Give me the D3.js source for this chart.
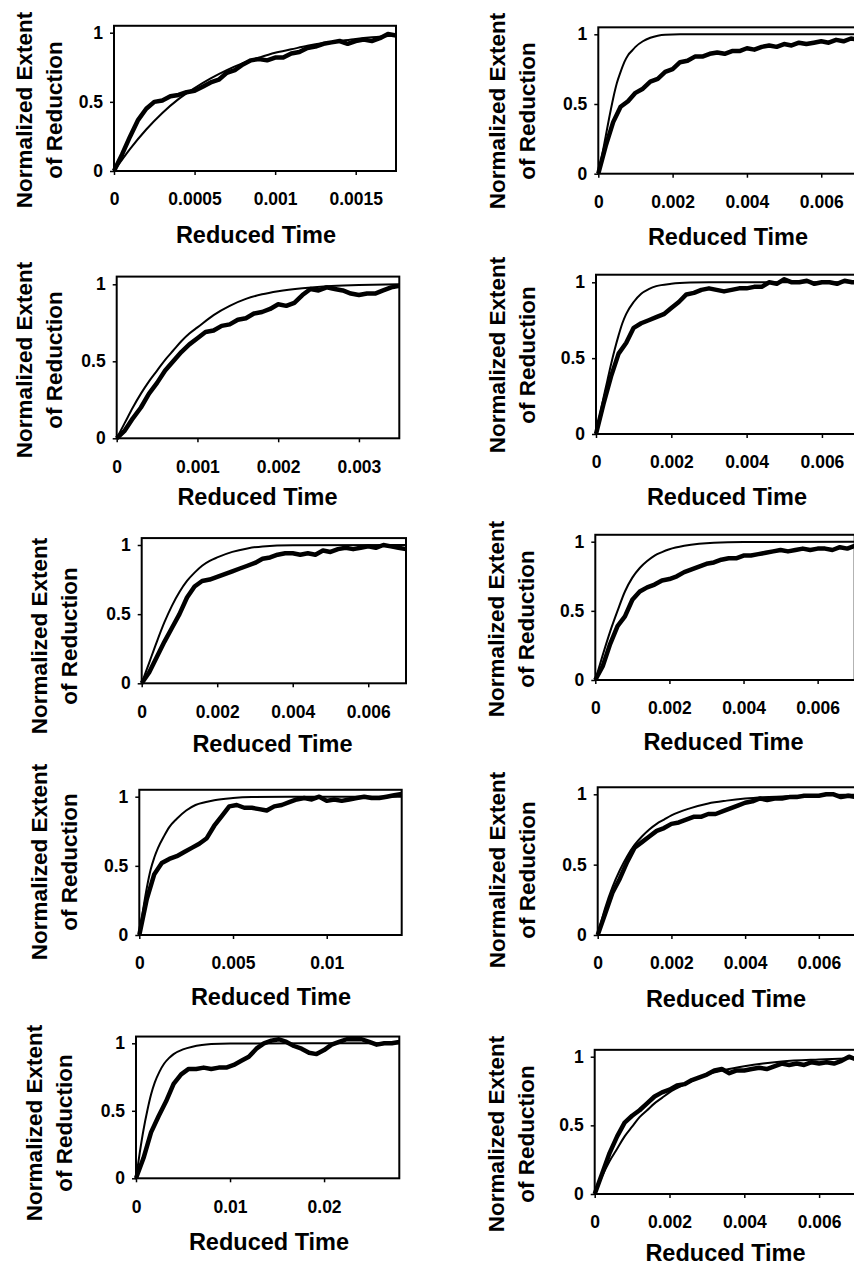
<!DOCTYPE html>
<html>
<head>
<meta charset="utf-8">
<script src="https://cdn.jsdelivr.net/npm/d3@7/dist/d3.min.js"></script>
<style>
  body { margin: 0; background: #fff; }
  svg text { font-family: "Liberation Sans", Arial, sans-serif; font-weight: bold; fill: #000; }
</style>
</head>
<body>
<div id="chart"></div>
<script>
// Time grids (reduced time) for the measured traces
const time175 = [0, 0.00005, 0.0001, 0.00015, 0.0002, 0.00025, 0.0003, 0.00035, 0.0004, 0.00045, 0.0005, 0.00055, 0.0006, 0.00065, 0.0007, 0.00075, 0.0008, 0.00085, 0.0009, 0.00095, 0.001, 0.00105, 0.0011, 0.00115, 0.0012, 0.00125, 0.0013, 0.00135, 0.0014, 0.00145, 0.0015, 0.00155, 0.0016, 0.00165, 0.0017, 0.00175];
const time35 = [0, 0.0001, 0.0002, 0.0003, 0.0004, 0.0005, 0.0006, 0.0007, 0.0008, 0.0009, 0.001, 0.0011, 0.0012, 0.0013, 0.0014, 0.0015, 0.0016, 0.0017, 0.0018, 0.0019, 0.002, 0.0021, 0.0022, 0.0023, 0.0024, 0.0025, 0.0026, 0.0027, 0.0028, 0.0029, 0.003, 0.0031, 0.0032, 0.0033, 0.0034, 0.0035];
const time7 = [0, 0.0002, 0.0004, 0.0006, 0.0008, 0.001, 0.0012, 0.0014, 0.0016, 0.0018, 0.002, 0.0022, 0.0024, 0.0026, 0.0028, 0.003, 0.0032, 0.0034, 0.0036, 0.0038, 0.004, 0.0042, 0.0044, 0.0046, 0.0048, 0.005, 0.0052, 0.0054, 0.0056, 0.0058, 0.006, 0.0062, 0.0064, 0.0066, 0.0068, 0.007];
const time14 = [0, 0.0004, 0.0008, 0.0012, 0.0016, 0.002, 0.0024, 0.0028, 0.0032, 0.0036, 0.004, 0.0044, 0.0048, 0.0052, 0.0056, 0.006, 0.0064, 0.0068, 0.0072, 0.0076, 0.008, 0.0084, 0.0088, 0.0092, 0.0096, 0.01, 0.0104, 0.0108, 0.0112, 0.0116, 0.012, 0.0124, 0.0128, 0.0132, 0.0136, 0.014];
const time28 = [0, 0.0008, 0.0016, 0.0024, 0.0032, 0.004, 0.0048, 0.0056, 0.0064, 0.0072, 0.008, 0.0088, 0.0096, 0.0104, 0.0112, 0.012, 0.0128, 0.0136, 0.0144, 0.0152, 0.016, 0.0168, 0.0176, 0.0184, 0.0192, 0.02, 0.0208, 0.0216, 0.0224, 0.0232, 0.024, 0.0248, 0.0256, 0.0264, 0.0272, 0.028];

// Measured traces (thick lines), one value per grid time
const dataA = [0, 0.12, 0.25, 0.37, 0.45, 0.5, 0.51, 0.54, 0.55, 0.57, 0.58, 0.61, 0.64, 0.66, 0.71, 0.73, 0.77, 0.8, 0.81, 0.8, 0.82, 0.82, 0.85, 0.86, 0.89, 0.9, 0.92, 0.93, 0.94, 0.92, 0.94, 0.95, 0.94, 0.96, 0.99, 0.98];
const dataB = [0, 0.2, 0.37, 0.48, 0.52, 0.58, 0.61, 0.66, 0.68, 0.73, 0.75, 0.8, 0.81, 0.84, 0.84, 0.86, 0.87, 0.86, 0.88, 0.88, 0.9, 0.89, 0.91, 0.92, 0.91, 0.93, 0.92, 0.94, 0.93, 0.94, 0.95, 0.94, 0.96, 0.95, 0.97, 0.96];
const dataC = [0, 0.05, 0.13, 0.2, 0.29, 0.36, 0.44, 0.5, 0.56, 0.61, 0.65, 0.69, 0.7, 0.73, 0.74, 0.77, 0.78, 0.81, 0.82, 0.84, 0.87, 0.86, 0.88, 0.93, 0.97, 0.96, 0.98, 0.97, 0.96, 0.94, 0.93, 0.94, 0.94, 0.96, 0.98, 0.99];
const dataD = [0, 0.2, 0.38, 0.53, 0.6, 0.7, 0.73, 0.75, 0.77, 0.79, 0.83, 0.87, 0.92, 0.93, 0.95, 0.96, 0.95, 0.94, 0.95, 0.96, 0.96, 0.97, 0.97, 1.0, 0.99, 1.02, 1.0, 1.0, 1.01, 0.99, 1.0, 1.0, 0.99, 1.01, 1.0, 1.0];
const dataE = [0, 0.08, 0.19, 0.3, 0.4, 0.5, 0.62, 0.7, 0.74, 0.75, 0.77, 0.79, 0.81, 0.83, 0.85, 0.87, 0.9, 0.91, 0.93, 0.94, 0.94, 0.93, 0.94, 0.93, 0.96, 0.95, 0.97, 0.98, 0.97, 0.98, 0.99, 0.98, 1.0, 0.99, 0.98, 0.97];
const dataF = [0, 0.1, 0.26, 0.39, 0.46, 0.58, 0.64, 0.67, 0.69, 0.72, 0.73, 0.75, 0.78, 0.8, 0.82, 0.84, 0.85, 0.87, 0.88, 0.88, 0.9, 0.9, 0.91, 0.92, 0.93, 0.94, 0.93, 0.94, 0.95, 0.94, 0.95, 0.95, 0.94, 0.96, 0.95, 0.97];
const dataG = [0, 0.26, 0.44, 0.52, 0.55, 0.57, 0.6, 0.63, 0.66, 0.7, 0.79, 0.86, 0.93, 0.94, 0.92, 0.92, 0.91, 0.9, 0.93, 0.94, 0.96, 0.98, 0.99, 0.98, 1.0, 0.97, 0.98, 0.97, 0.98, 0.99, 1.0, 0.99, 0.99, 1.0, 1.01, 1.02];
const dataH = [0, 0.15, 0.3, 0.4, 0.52, 0.62, 0.66, 0.7, 0.74, 0.76, 0.79, 0.8, 0.82, 0.84, 0.84, 0.86, 0.86, 0.88, 0.9, 0.92, 0.94, 0.95, 0.97, 0.96, 0.97, 0.97, 0.98, 0.98, 0.99, 0.99, 0.99, 1.0, 1.0, 0.98, 0.99, 0.98];
const dataI = [0, 0.15, 0.34, 0.46, 0.57, 0.7, 0.77, 0.81, 0.81, 0.82, 0.81, 0.82, 0.82, 0.84, 0.87, 0.9, 0.96, 1.0, 1.02, 1.03, 1.01, 0.98, 0.96, 0.93, 0.92, 0.95, 0.99, 1.01, 1.03, 1.03, 1.03, 1.01, 0.99, 1.0, 1.0, 1.01];
const dataJ = [0, 0.15, 0.3, 0.42, 0.52, 0.57, 0.61, 0.66, 0.71, 0.74, 0.76, 0.79, 0.8, 0.83, 0.85, 0.87, 0.9, 0.91, 0.88, 0.9, 0.9, 0.91, 0.92, 0.91, 0.93, 0.95, 0.94, 0.95, 0.94, 0.96, 0.95, 0.96, 0.95, 0.97, 1.0, 0.98];

// Model curves (thin lines), [time, extent]
const modelA = [[0, 0], [0.0001, 0.16], [0.0002, 0.3], [0.0003, 0.42], [0.0004, 0.52], [0.0005, 0.6], [0.0006, 0.67], [0.0007, 0.73], [0.0008, 0.78], [0.0009, 0.82], [0.001, 0.855], [0.0011, 0.88], [0.0012, 0.905], [0.0013, 0.925], [0.0014, 0.94], [0.0015, 0.955], [0.0016, 0.967], [0.00175, 0.98]];
const modelB = [[0, 0], [0.0001, 0.13], [0.0002, 0.27], [0.0003, 0.41], [0.0004, 0.54], [0.0005, 0.65], [0.0006, 0.73], [0.0007, 0.8], [0.0008, 0.85], [0.0009, 0.88], [0.001, 0.91], [0.0012, 0.95], [0.0014, 0.975], [0.0016, 0.99], [0.0018, 0.997], [0.0022, 1], [0.007, 1]];
const modelC = [[0, 0], [0.0001, 0.1], [0.0002, 0.2], [0.0003, 0.29], [0.0004, 0.37], [0.0005, 0.44], [0.0006, 0.51], [0.0007, 0.57], [0.0008, 0.63], [0.0009, 0.68], [0.001, 0.72], [0.0012, 0.8], [0.0014, 0.86], [0.0016, 0.905], [0.0018, 0.935], [0.002, 0.955], [0.0023, 0.975], [0.0026, 0.988], [0.003, 0.995], [0.0035, 1]];
const modelD = [[0, 0], [0.0001, 0.12], [0.0002, 0.24], [0.0003, 0.35], [0.0004, 0.46], [0.0005, 0.56], [0.0006, 0.65], [0.0007, 0.73], [0.0008, 0.79], [0.001, 0.87], [0.0012, 0.925], [0.0014, 0.955], [0.0016, 0.975], [0.002, 0.99], [0.0025, 0.998], [0.003, 1], [0.007, 1]];
const modelE = [[0, 0], [0.0002, 0.15], [0.0004, 0.3], [0.0006, 0.44], [0.0008, 0.56], [0.001, 0.66], [0.0012, 0.74], [0.0014, 0.8], [0.0016, 0.85], [0.0018, 0.885], [0.002, 0.91], [0.0024, 0.95], [0.0028, 0.975], [0.0032, 0.99], [0.004, 0.998], [0.007, 1]];
const modelF = [[0, 0], [0.0002, 0.18], [0.0004, 0.35], [0.0006, 0.5], [0.0008, 0.64], [0.001, 0.74], [0.0012, 0.81], [0.0014, 0.86], [0.0016, 0.9], [0.0018, 0.925], [0.002, 0.945], [0.0024, 0.97], [0.0028, 0.985], [0.0032, 0.993], [0.004, 0.998], [0.007, 1]];
const modelG = [[0, 0], [0.0002, 0.18], [0.0004, 0.34], [0.0006, 0.47], [0.0008, 0.56], [0.001, 0.63], [0.0013, 0.71], [0.0016, 0.78], [0.002, 0.84], [0.0025, 0.9], [0.003, 0.94], [0.0035, 0.96], [0.004, 0.975], [0.005, 0.99], [0.006, 0.997], [0.008, 1], [0.014, 1]];
const modelH = [[0, 0], [0.0002, 0.19], [0.0004, 0.34], [0.0006, 0.46], [0.0008, 0.56], [0.001, 0.64], [0.0012, 0.7], [0.0014, 0.75], [0.0016, 0.79], [0.0018, 0.82], [0.002, 0.85], [0.0025, 0.9], [0.003, 0.935], [0.0035, 0.955], [0.004, 0.97], [0.005, 0.985], [0.006, 0.993], [0.007, 0.997]];
const modelI = [[0, 0], [0.0004, 0.19], [0.0008, 0.36], [0.0012, 0.5], [0.0016, 0.62], [0.002, 0.71], [0.0025, 0.79], [0.003, 0.85], [0.0035, 0.89], [0.004, 0.92], [0.005, 0.955], [0.006, 0.975], [0.007, 0.987], [0.008, 0.994], [0.01, 0.999], [0.028, 1]];
const modelJ = [[0, 0], [0.0002, 0.13], [0.0004, 0.24], [0.0006, 0.33], [0.0008, 0.42], [0.001, 0.49], [0.0012, 0.56], [0.0014, 0.61], [0.0016, 0.66], [0.0018, 0.7], [0.002, 0.74], [0.0025, 0.81], [0.003, 0.87], [0.0035, 0.905], [0.004, 0.93], [0.0045, 0.95], [0.005, 0.965], [0.006, 0.98], [0.007, 0.99]];

// Tick labels
const ticksA = [0, 0.0005, 0.001, 0.0015];
const ticksC = [0, 0.001, 0.002, 0.003];
const ticks7 = [0, 0.002, 0.004, 0.006];
const ticksG = [0, 0.005, 0.01];
const ticksI = [0, 0.01, 0.02];
const yTicks = [0, 0.5, 1];

const xTitle = 'Reduced Time';
const yTitle = ['Normalized Extent', 'of Reduction'];

// Panel placement on the page (pixels): x of t=0 and t=max, y of 0 and 1,
// centre of y title, x of first y-title baseline, x-title centre and baseline
const layout = [
    { x0: 114, x1: 396, y0: 171, y1: 32.7, yc: 110, yb: 32, xc: 256, xb: 243 },
    { x0: 598.3, x1: 858.4, y0: 173.7, y1: 34.3, yc: 111, yb: 505, xc: 728, xb: 245 },
    { x0: 116.7, x1: 399.3, y0: 438.3, y1: 284.3, yc: 360, yb: 32, xc: 257.5, xb: 505 },
    { x0: 596, x1: 859.6, y0: 434, y1: 282.3, yc: 355, yb: 505, xc: 727, xb: 505 },
    { x0: 141.7, x1: 406, y0: 683.3, y1: 545, yc: 636, yb: 47, xc: 272.5, xb: 752 },
    { x0: 595.3, x1: 854.7, y0: 680, y1: 541.7, yc: 619, yb: 504, xc: 723.5, xb: 750 },
    { x0: 139.3, x1: 401.7, y0: 935, y1: 796.7, yc: 862, yb: 47, xc: 271, xb: 1005 },
    { x0: 597.7, x1: 855.7, y0: 935, y1: 794.3, yc: 870, yb: 505, xc: 726, xb: 1007 },
    { x0: 136, x1: 399.3, y0: 1178.3, y1: 1043.3, yc: 1123, yb: 42, xc: 269, xb: 1250 },
    { x0: 594.7, x1: 856.5, y0: 1194, y1: 1056.7, yc: 1134, yb: 504, xc: 725.5, xb: 1261 },
];

const panels = [
    { time: time175, data: dataA, model: modelA, ticks: ticksA },
    { time: time7, data: dataB, model: modelB, ticks: ticks7 },
    { time: time35, data: dataC, model: modelC, ticks: ticksC },
    { time: time7, data: dataD, model: modelD, ticks: ticks7 },
    { time: time7, data: dataE, model: modelE, ticks: ticks7 },
    { time: time7, data: dataF, model: modelF, ticks: ticks7 },
    { time: time14, data: dataG, model: modelG, ticks: ticksG },
    { time: time7, data: dataH, model: modelH, ticks: ticks7 },
    { time: time28, data: dataI, model: modelI, ticks: ticksI },
    { time: time7, data: dataJ, model: modelJ, ticks: ticks7 },
];

function draw() {
    const svg = d3.select('#chart')
        .append('svg')
        .attr('width', 854)
        .attr('height', 1266);

    panels.forEach((p, i) => {
        const L = layout[i];
        const tMax = p.time[p.time.length - 1];

        const xScale = d3.scaleLinear()
            .domain([0, tMax])
            .range([L.x0, L.x1]);

        const yScale = d3.scaleLinear()
            .domain([0, 1])
            .range([L.y0, L.y1]);

        const g = svg.append('g');

        // axes
        const xAxis = d3.axisBottom(xScale)
            .tickValues(p.ticks)
            .tickFormat(d => String(d))
            .tickSize(4)
            .tickPadding(18);

        const yAxis = d3.axisLeft(yScale)
            .tickValues(yTicks)
            .tickFormat(d => String(d))
            .tickSize(4)
            .tickPadding(7);

        const xg = g.append('g')
            .attr('transform', `translate(0, ${L.y0})`)
            .call(xAxis);
        const yg = g.append('g')
            .attr('transform', `translate(${L.x0}, 0)`)
            .call(yAxis);

        [xg, yg].forEach(a => {
            a.select('.domain').remove();
            a.selectAll('.tick line').attr('stroke', '#000').attr('stroke-width', 1.5);
            a.selectAll('.tick text')
                .attr('fill', '#000')
                .style('font-size', '17.5px');
        });

        // model (thin) and data (thick)
        const modelLine = d3.line()
            .x(d => xScale(d[0]))
            .y(d => yScale(d[1]))
            .curve(d3.curveMonotoneX);

        const dataLine = d3.line()
            .x((d, j) => xScale(p.time[j]))
            .y(d => yScale(d));

        g.append('path')
            .datum(p.model)
            .attr('d', modelLine)
            .attr('fill', 'none')
            .attr('stroke', '#000')
            .attr('stroke-width', 2);

        g.append('path')
            .datum(p.data)
            .attr('d', dataLine)
            .attr('fill', 'none')
            .attr('stroke', '#000')
            .attr('stroke-width', 4.5)
            .attr('stroke-linejoin', 'round');

        // plot frame
        const top = yScale(1.05);
        g.append('rect')
            .attr('x', L.x0)
            .attr('y', top)
            .attr('width', L.x1 - L.x0)
            .attr('height', L.y0 - top)
            .attr('fill', 'none')
            .attr('stroke', '#000')
            .attr('stroke-width', 2);

        // titles
        g.append('text')
            .attr('x', L.xc)
            .attr('y', L.xb)
            .attr('text-anchor', 'middle')
            .style('font-size', '23.5px')
            .text(xTitle);

        yTitle.forEach((line, k) => {
            const bx = L.yb + k * 30;
            g.append('text')
                .attr('transform', `translate(${bx}, ${L.yc}) rotate(-90)`)
                .attr('text-anchor', 'middle')
                .style('font-size', '22.5px')
                .text(line);
        });
    });
}

draw();
</script>
</body>
</html>
